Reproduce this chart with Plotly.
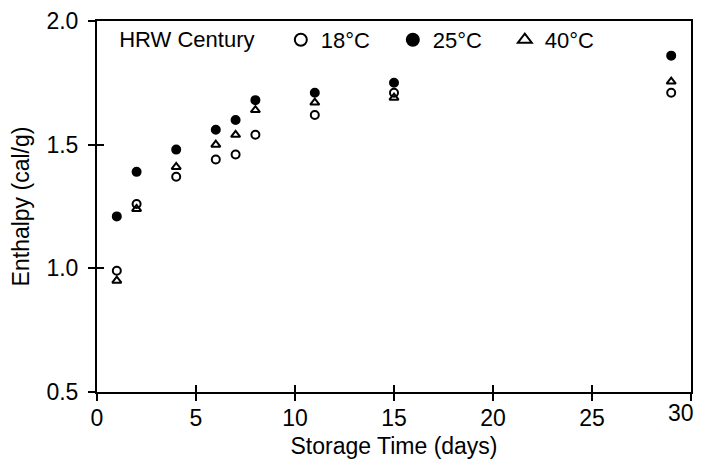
import plotly.graph_objects as go

# Storage time (days) and enthalpy (cal/g) per storage temperature
days = [1, 2, 4, 6, 7, 8, 11, 15, 29]
enthalpy_18c = [0.99, 1.26, 1.37, 1.44, 1.46, 1.54, 1.62, 1.71, 1.71]
enthalpy_25c = [1.21, 1.39, 1.48, 1.56, 1.60, 1.68, 1.71, 1.75, 1.86]
enthalpy_40c = [0.95, 1.24, 1.41, 1.50, 1.54, 1.64, 1.67, 1.69, 1.755]

x_ticks = [0, 5, 10, 15, 20, 25, 30]
y_ticks = [0.5, 1.0, 1.5, 2.0]

FONT = "Liberation Sans"

fig = go.Figure()

series = [
    ("18°C", enthalpy_18c, "circle-open", 8),
    ("25°C", enthalpy_25c, "circle", 8),
    ("40°C", enthalpy_40c, "triangle-up-open", 8),
]
for name, values, symbol, size in series:
    fig.add_trace(
        go.Scatter(
            x=days,
            y=values,
            mode="markers",
            name=name,
            marker=dict(symbol=symbol, size=size, color="black",
                        line=dict(color="black", width=2)),
        )
    )

axis_common = dict(
    showgrid=False,
    zeroline=False,
    automargin=False,
    linecolor="black",
    linewidth=2,
    ticks="outside",
    ticklen=7,
    tickwidth=1.5,
    tickcolor="black",
    ticklabeloverflow="allow",
    tickfont=dict(family=FONT, size=23, color="black"),
)

# the last x label sits at the window edge: draw it right-aligned instead
x_ticktext = [str(v) for v in x_ticks[:-1]] + [""]

# page body has an 8px margin, so the figure is sized to fit the window
fig.update_layout(
    width=695,
    height=453,
    margin=dict(l=89, r=12, t=12, b=69),
    plot_bgcolor="white",
    paper_bgcolor="white",
    showlegend=True,
    legend=dict(
        orientation="h",
        x=0.034,
        y=1.003,
        xanchor="left",
        yanchor="top",
        title=dict(text="HRW Century   ", side="left",
                   font=dict(family=FONT, size=22, color="black")),
        font=dict(family=FONT, size=22, color="black"),
        entrywidth=67,
        entrywidthmode="pixels",
        bgcolor="rgba(0,0,0,0)",
        itemsizing="constant",
    ),
    xaxis=dict(
        range=[0, 30],
        tickvals=x_ticks,
        ticktext=x_ticktext,
        mirror=True,
        ticklabelstandoff=-3,
        title=dict(text="Storage Time (days)", font=dict(family=FONT, size=23, color="black"),
                   standoff=8),
        **axis_common,
    ),
    yaxis=dict(
        range=[0.5, 2.0],
        tickvals=y_ticks,
        tickformat=".1f",
        mirror=True,
        ticklabelstandoff=5,
        title=dict(text="Enthalpy (cal/g)", font=dict(family=FONT, size=23, color="black"),
                   standoff=14),
        **axis_common,
    ),
    # overlay axes draw the inner half of the crossing ticks
    xaxis2=dict(overlaying="x", range=[0, 30], tickvals=x_ticks, ticks="inside",
                ticklen=7, tickwidth=1.5, tickcolor="black", showticklabels=False,
                showgrid=False, zeroline=False, showline=False),
    yaxis2=dict(overlaying="y", range=[0.5, 2.0], tickvals=y_ticks, ticks="inside",
                ticklen=7, tickwidth=1.5, tickcolor="black", showticklabels=False,
                showgrid=False, zeroline=False, showline=False),
)

fig.add_annotation(
    x=x_ticks[-1], y=y_ticks[0], xref="x", yref="y",
    text=str(x_ticks[-1]), showarrow=False,
    xanchor="right", yanchor="middle", xshift=5, yshift=-21,
    font=dict(family=FONT, size=23, color="black"),
)

# invisible trace so the overlay axes are drawn
fig.add_trace(go.Scatter(x=[None], y=[None], xaxis="x2", yaxis="y2",
                         showlegend=False, hoverinfo="skip"))

# no scrollbars: the page is a few px taller than the window
fig.write_html("out.html", post_script="document.body.style.overflow = 'hidden';")
